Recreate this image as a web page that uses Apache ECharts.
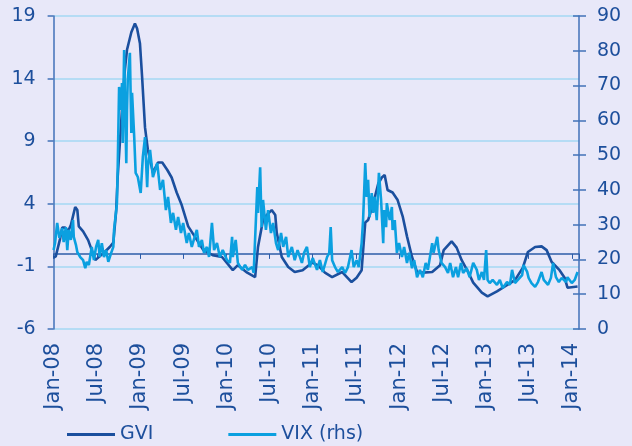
<!DOCTYPE html>
<html>
<head>
<meta charset="utf-8">
<script src="https://cdn.jsdelivr.net/npm/echarts@6/dist/echarts.min.js"></script>
<style>
  html, body { margin: 0; padding: 0; background: #e8e8f9; }
  #chart { width: 632px; height: 446px; background: #e8e8f9; }
</style>
</head>
<body>
<div id="chart"></div>
<script>
// x values are months since Jan-08
const tickLabels = ['Jan-08', 'Jul-08', 'Jan-09', 'Jul-09', 'Jan-10', 'Jul-10', 'Jan-11',
  'Jul-11', 'Jan-12', 'Jul-12', 'Jan-13', 'Jul-13', 'Jan-14'];

const gviMonths = [0, 0.3, 0.9, 1.2, 1.6, 2.0, 2.4, 3.0, 3.3, 3.5, 4.1, 4.8, 5.3, 5.8, 6.2,
  7.1, 7.8, 8.3, 8.7, 8.9, 9.5, 9.9, 10.2, 10.8, 11.3, 11.6, 12.0, 12.3, 12.7, 13.1, 13.8,
  14.5, 15.1, 15.8, 16.4, 17.1, 17.8, 18.7, 19.6, 20.8, 22.1, 23.4, 24.9, 25.6, 26.9, 28.0,
  28.1, 28.4, 29.1, 29.6, 30.3, 30.8, 31.0, 31.7, 32.6, 33.5, 34.6, 35.9, 36.7, 37.7, 38.7,
  40.1, 41.4, 42.1, 42.8, 43.3, 43.7, 44.4, 45.1, 45.6, 46.0, 46.4, 47.1, 47.8, 48.5, 49.1,
  49.8, 50.5, 51.3, 52.6, 53.7, 54.2, 55.3, 56.0, 56.7, 57.6, 58.3, 59.5, 60.3, 61.6, 62.7,
  64.1, 65.2, 65.9, 66.9, 67.8, 68.5, 69.2, 70.3, 71.0, 71.4, 72.8];
const gviValues = [-0.3, -0.2, 1.2, 2.1, 2.1, 1.8, 2.3, 3.75, 3.5, 2.2, 1.8, 1.1, 0.3, -0.5, -0.3,
  0.15, 0.55, 0.9, 3.5, 6.1, 11.5, 14.7, 16.3, 17.7, 18.4, 18.0, 16.8, 14.1, 10.1, 8.3, 6.5,
  7.3, 7.3, 6.7, 6.1, 4.9, 3.9, 2.2, 1.4, 0.3, -0.1, -0.25, -1.3, -0.9, -1.5, -1.85,
  -1.9, 0.55, 2.7, 3.1, 3.5, 3.1, 1.7, -0.25, -1.05, -1.45, -1.3, -0.7, -0.9, -1.5, -1.85,
  -1.45, -2.25, -1.9, -1.3, 2.5, 2.7, 4.0, 5.6, 6.1, 6.3, 5.1, 4.9, 4.3, 3.0, 1.4,
  -0.25, -1.45, -1.5, -1.45, -0.9, 0.3, 1.0, 0.5, -0.5, -1.45, -2.3, -3.1, -3.4, -3.0, -2.6,
  -2.1, -1.1, 0.15, 0.55, 0.6, 0.3, -0.65, -1.3, -1.9, -2.7, -2.6];

const vixMonths = [0, 0.2, 0.5, 0.8, 1.2, 1.4, 1.7, 1.9, 2.1, 2.4, 2.7, 2.8, 3.1, 3.3, 3.7,
  4.1, 4.4, 4.6, 4.9, 5.3, 5.6, 5.9, 6.2, 6.4, 6.7, 7.0, 7.3, 7.6, 8.0, 8.3, 8.4, 8.7, 8.8,
  8.9, 9.1, 9.4, 9.5, 9.6, 9.8, 9.9, 10.1, 10.2, 10.3, 10.6, 10.8, 10.9, 11.2, 11.4, 11.7,
  12.1, 12.4, 12.7, 13.0, 13.1, 13.4, 13.8, 14.4, 14.8, 15.2, 15.6, 15.9, 16.3, 16.6, 17.0,
  17.3, 17.7, 18.0, 18.5, 18.8, 19.2, 19.6, 19.9, 20.2, 20.6, 20.9, 21.3, 21.6, 22.0, 22.3,
  22.7, 23.1, 23.5, 24.1, 24.5, 24.8, 24.9, 25.3, 25.6, 26.2, 26.6, 27.0, 27.6, 27.8, 28.3,
  28.4, 28.7, 28.9, 29.1, 29.5, 29.8, 30.2, 30.5, 30.9, 31.2, 31.6, 31.9, 32.3, 32.6, 33.1,
  33.5, 33.9, 34.5, 34.8, 35.2, 35.6, 36.0, 36.6, 37.0, 37.4, 38.0, 38.3, 38.5, 38.7, 39.1,
  39.5, 40.1, 40.5, 40.9, 41.4, 41.7, 42.1, 42.4, 42.8, 43.0, 43.3, 43.5, 43.7, 43.9, 44.2,
  44.4, 44.6, 44.9, 45.2, 45.5, 45.8, 45.9, 46.2, 46.3, 46.7, 47.0, 47.1, 47.4, 47.7, 48.0,
  48.4, 48.7, 49.1, 49.4, 49.8, 50.1, 50.5, 50.9, 51.3, 51.7, 52.0, 52.6, 52.8, 53.3, 53.5,
  53.9, 54.4, 54.8, 55.1, 55.5, 55.9, 56.2, 56.6, 56.9, 57.4, 57.8, 58.3, 58.8, 59.1, 59.5,
  59.8, 60.1, 60.3, 60.6, 61.0, 61.6, 62.0, 62.4, 63.0, 63.4, 63.7, 64.1, 64.5, 65.1, 65.3,
  65.8, 66.0, 66.4, 66.9, 67.3, 67.8, 68.1, 68.7, 69.1, 69.4, 69.8, 70.2, 70.6, 71.2, 71.4,
  72.0, 72.4, 72.8];
const vixValues = [22.7, 24.7, 30.5, 26.2, 29, 25, 29.3, 22.7, 28.5, 25.6, 31.3, 26.5, 24.2, 22.1, 20.7,
  19.8, 17.5, 19.3, 18.4, 23.6, 19.8, 23.6, 25.6, 20.7, 24.7, 20.7, 22.7, 19.3, 21.9, 23.6, 28.5, 34.2, 36.2,
  45.7, 69.6, 63, 70.7, 53.5, 80.2, 67.9, 47.7, 63, 71.6, 79.4, 56.4, 67.9, 55.2, 44.9, 43.7,
  39.1, 49.5, 55.2, 40.8, 46.6, 51.5, 43.7, 47.7, 40, 42.9, 34.2, 38, 30.5, 33.4, 28.5,
  32.2, 27.6, 30.5, 24.7, 27.6, 23.6, 26.5, 28.5, 23.6, 25.6, 21.9, 23.6, 20.7, 30.5, 22.7,
  24.7, 20.7, 22.7, 19.8, 19, 26.5, 20.7, 25.6, 19, 17, 18.4, 17, 17.8, 16.1, 40.8,
  33.4, 46.5, 29.3, 37.1, 28.5, 34.2, 27.6, 30.5, 24.7, 22.7, 27.6, 23.6, 26.5, 20.7, 23.6,
  19.8, 22.7, 19, 21.9, 23.6, 17.8, 20.4, 17, 19.8, 16.4, 20.7, 21.9, 29.3, 19.8, 17.8,
  16.4, 17.8, 16.1, 17.8, 22.7, 17.8, 19.8, 17.8, 24.7, 31.3, 47.7, 38, 42.9, 32.2, 39.1,
  33.4, 38, 31.3, 44.9, 37.1, 24.7, 34.2, 29.3, 36.2, 31.3, 35.1, 28.5, 31.3, 21.9, 24.7,
  20.7, 23.6, 19, 21.9, 17.5, 19.8, 14.9, 17, 14.9, 19, 17, 24.7, 21.9, 26.5, 22.7,
  19, 17.8, 16.1, 19, 14.9, 17.8, 14.9, 19, 16.1, 17.5, 14.9, 19, 17, 14.1, 16.4,
  14.1, 22.7, 14.1, 13.2, 14.1, 12.7, 14.1, 11.8, 13.5, 12.7, 17, 13.2, 14.1, 15.5, 18.4,
  16.4, 14.7, 13.2, 12.1, 13.5, 16.4, 14.1, 12.7, 14.7, 19, 14.9, 13.5, 14.7, 13.5, 14.9,
  13.2, 14.1, 16.4];

const darkBlue = '#1b4f9e';
const lightBlue = '#0ba0e0';
const axisColor = '#4272b8';
const gridColor = '#a4d9f3';
const textStyle = { color: '#1d4f9c', fontSize: 19, fontFamily: 'DejaVu Sans' };

const chart = echarts.init(document.getElementById('chart'));

const option = {
  animation: false,
  grid: { left: 53.6, right: 53, top: 16, bottom: 117 },
  legend: {
    left: 62,
    top: 420,
    icon: 'rect',
    itemWidth: 48,
    itemHeight: 3,
    itemGap: 75,
    textStyle: textStyle,
    data: ['GVI', 'VIX (rhs)']
  },
  xAxis: [
    {
      type: 'value',
      min: 0,
      max: 73,
      interval: 6,
      position: 'bottom',
      axisLine: { show: false, onZero: false },
      axisTick: { show: false },
      splitLine: { show: false },
      axisLabel: {
        ...textStyle,
        fontSize: 21,
        rotate: 90,
        margin: 14,
        showMaxLabel: false,
        formatter: function (v) {
          return v % 6 === 0 ? (tickLabels[v / 6] || '') : '';
        }
      }
    },
    {
      // zero line of the left axis, with its ticks
      type: 'value',
      min: 0,
      max: 73,
      interval: 6,
      position: 'top',
      axisLine: { show: true, onZero: true, onZeroAxisIndex: 0, lineStyle: { color: '#2c5ca8', width: 1.5 } },
      axisTick: { show: true, inside: true, length: 5, lineStyle: { color: '#2c5ca8' } },
      axisLabel: { show: false },
      splitLine: { show: false }
    }
  ],
  yAxis: [
    {
      type: 'value',
      min: -6,
      max: 19,
      interval: 5,
      position: 'left',
      axisLine: { show: true, onZero: false, lineStyle: { color: axisColor, width: 1.5 } },
      axisTick: { show: true, length: 6, lineStyle: { color: axisColor, width: 1.5 } },
      splitLine: { show: true, lineStyle: { color: gridColor, width: 1.5 } },
      axisLabel: { ...textStyle, margin: 18 }
    },
    {
      type: 'value',
      min: 0,
      max: 90,
      interval: 10,
      position: 'right',
      axisLine: { show: true, onZero: false, lineStyle: { color: axisColor, width: 1.5 } },
      axisTick: { show: true, length: 7, lineStyle: { color: axisColor, width: 1.5 } },
      splitLine: { show: false },
      axisLabel: { ...textStyle, margin: 18 }
    },
    {
      // inner half of the crossing ticks on the right axis
      type: 'value',
      min: 0,
      max: 90,
      interval: 10,
      position: 'right',
      axisLine: { show: false, onZero: false },
      axisTick: { show: true, inside: true, length: 6, lineStyle: { color: axisColor, width: 1.5 } },
      splitLine: { show: false },
      axisLabel: { show: false }
    }
  ],
  series: [
    {
      name: 'GVI',
      type: 'line',
      yAxisIndex: 0,
      showSymbol: false,
      symbol: 'none',
      lineStyle: { color: darkBlue, width: 2.6 },
      itemStyle: { color: darkBlue },
      data: gviMonths.map((m, i) => [m, gviValues[i]])
    },
    {
      name: 'VIX (rhs)',
      type: 'line',
      yAxisIndex: 1,
      showSymbol: false,
      symbol: 'none',
      lineStyle: { color: lightBlue, width: 2.6 },
      itemStyle: { color: lightBlue },
      data: vixMonths.map((m, i) => [m, vixValues[i]])
    }
  ]
};

chart.setOption(option);
</script>
</body>
</html>
